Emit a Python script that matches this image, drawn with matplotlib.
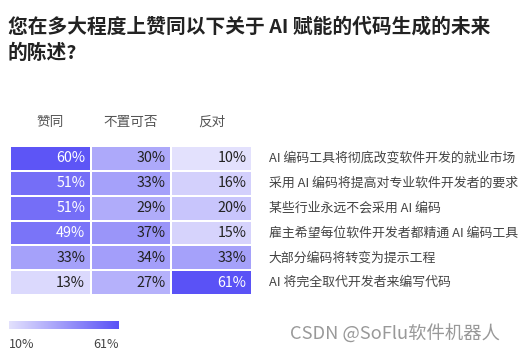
import numpy as np
import matplotlib.pyplot as plt
from matplotlib.colors import LinearSegmentedColormap

plt.rcParams['font.family'] = ['Noto Sans CJK SC', 'DejaVu Sans']

# data
columns = ['赞同', '不置可否', '反对']
statements = [
    'AI 编码工具将彻底改变软件开发的就业市场',
    '采用 AI 编码将提高对专业软件开发者的要求',
    '某些行业永远不会采用 AI 编码',
    '雇主希望每位软件开发者都精通 AI 编码工具',
    '大部分编码将转变为提示工程',
    'AI 将完全取代开发者来编写代码',
]
agree = [60, 51, 51, 49, 33, 13]
neutral = [30, 33, 29, 37, 34, 27]
disagree = [10, 16, 20, 15, 33, 61]
title_lines = ['您在多大程度上赞同以下关于 AI 赋能的代码生成的未来', '的陈述?']

values = np.array([agree, neutral, disagree]).T
vmin, vmax = values.min(), values.max()
cmap = LinearSegmentedColormap.from_list('purp', ['#E3E1FD', '#5A52F6'])

W, H = 532, 355
fig = plt.figure(figsize=(W / 100, H / 100), dpi=100)

def box(x0, y0, x1, y1):
    # pixel box (from top-left) -> figure fraction
    return [x0 / W, 1 - y1 / H, (x1 - x0) / W, (y1 - y0) / H]

ax = fig.add_axes(box(10, 146, 252, 295))
ax.pcolormesh(values, cmap=cmap, vmin=vmin, vmax=vmax,
              edgecolor='white', linewidth=1.2)
ax.set_xlim(0, 3)
ax.set_ylim(len(statements), 0)
ax.axis('off')

for i in range(len(statements)):
    for j in range(len(columns)):
        v = values[i, j]
        color = 'white' if v >= 45 else '#222222'
        ax.text(j + 0.93, i + 0.5, f'{v}%', ha='right', va='center',
                fontsize=10.3, color=color)
    ax.text(3.21, i + 0.5, statements[i], ha='left', va='center',
            fontsize=9.3, color='#444444', clip_on=False)

for j, c in enumerate(columns):
    ax.text(j + 0.5, -0.97, c, ha='center', va='center',
            fontsize=9.8, color='#555555', clip_on=False)

for k, line in enumerate(title_lines):
    fig.text(8 / W, 1 - (27 + 26 * k) / H, line, ha='left', va='center',
             fontsize=14.2, fontweight='bold', color='#222222')

# colour scale
cax = fig.add_axes(box(9, 321, 119, 329))
cax.imshow(np.linspace(0, 1, 256)[None, :], aspect='auto', cmap=cmap)
cax.axis('off')
fig.text(9 / W, 1 - 345 / H, f'{vmin}%', ha='left', va='center',
         fontsize=9, color='#444444')
fig.text(119 / W, 1 - 345 / H, f'{vmax}%', ha='right', va='center',
         fontsize=9, color='#444444')

fig.text(290 / W, 1 - 334 / H, 'CSDN @SoFlu软件机器人', ha='left', va='center',
         fontsize=13.2, color='#999999')

fig.savefig('out.png', dpi=100)
